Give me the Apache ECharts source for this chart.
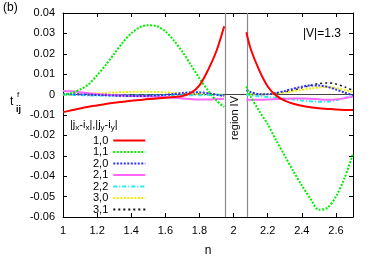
<!DOCTYPE html>
<html><head><meta charset="utf-8">
<script src="https://cdn.jsdelivr.net/npm/echarts@6/dist/echarts.min.js"></script>
<style>html,body{margin:0;padding:0;background:#fff}#c{width:374px;height:262px}</style>
</head><body><div id="c"></div>
<script>
// Data
const nLeft  = [1.0,1.05,1.1,1.15,1.2,1.25,1.3,1.35,1.4,1.45,1.5,1.55,1.6,1.65,1.7,1.75,1.8,1.85,1.9,1.945];
const nRight = [2.075,2.1,2.15,2.2,2.25,2.3,2.35,2.4,2.45,2.5,2.55,2.6,2.65,2.7];
const seriesNames = ['1,0','1,1','2,0','2,1','2,2','3,0','3,1'];
const t10L = [-0.0086,-0.0077,-0.0068,-0.006,-0.0053,-0.0046,-0.004,-0.0035,-0.003,-0.0026,-0.0022,-0.0019,-0.0016,-0.0012,-0.0007,0.0008,0.0045,0.012,0.0215,0.0335];
const t10R = [0.0306,0.0225,0.012,0.004,-0.0005,-0.003,-0.0045,-0.0055,-0.0062,-0.0067,-0.007,-0.0073,-0.0075,-0.0076];
const t11L = [0.0,0.0008,0.0025,0.005,0.0095,0.0145,0.02,0.0255,0.03,0.033,0.034,0.0335,0.031,0.0265,0.021,0.0145,0.008,0.002,-0.003,-0.006];
const t11R = [0.004,-0.001,-0.008,-0.0145,-0.0225,-0.03,-0.0375,-0.0445,-0.051,-0.0565,-0.0555,-0.05,-0.041,-0.029];
const t20L = [0.0003,0.0002,0.0001,0,-0.0002,-0.0003,-0.0005,-0.0006,-0.0007,-0.0007,-0.0006,-0.0004,-0.0001,0.0003,0.0008,0.0011,0.0011,0.0007,0.0,-0.0008];
const t20R = [0.0022,0.0012,0.0002,0.0002,0.0008,0.0018,0.0029,0.0039,0.0045,0.0045,0.0038,0.0025,0.001,-0.0003];
const t21L = [0.0018,0.0016,0.0012,0.0007,0.0003,0.0,-0.0003,-0.0005,-0.0007,-0.0008,-0.0009,-0.001,-0.0012,-0.0015,-0.0019,-0.0022,-0.0024,-0.0024,-0.0022,-0.002];
const t21R = [-0.0025,-0.0025,-0.0025,-0.0024,-0.0022,-0.002,-0.0019,-0.0019,-0.002,-0.0023,-0.0025,-0.0024,-0.0018,-0.001];
const t22L = [0.0,-0.0001,-0.0002,-0.0004,-0.0005,-0.0005,-0.0005,-0.0005,-0.0005,-0.0005,-0.0005,-0.0005,-0.0004,-0.0004,-0.0003,-0.0003,-0.0003,-0.0002,-0.0001,0.0];
const t22R = [0.0,-0.0003,-0.0008,-0.0012,-0.0016,-0.002,-0.0024,-0.0029,-0.0033,-0.0035,-0.0034,-0.0028,-0.0017,-0.0005];
const t30L = [0.0,0.0001,0.0002,0.0004,0.0006,0.0008,0.001,0.0012,0.0013,0.0014,0.0014,0.0013,0.0011,0.0009,0.0007,0.0005,0.0003,0.0002,0.0001,0.0];
const t30R = [0.0,0.0,0.0001,0.0003,0.0006,0.001,0.0016,0.0023,0.003,0.0035,0.0037,0.0032,0.0023,0.0013];
const t31L = [0.0,0.0,0.0,-0.0001,-0.0001,-0.0002,-0.0002,-0.0003,-0.0003,-0.0003,-0.0003,-0.0002,-0.0001,0.0,0.0002,0.0003,0.0003,0.0002,0.0,-0.0001];
const t31R = [0.0,0.0,0.0,0.0002,0.0006,0.0013,0.0022,0.0033,0.0045,0.0054,0.0057,0.0052,0.0038,0.0021];
const regionLines = [1.945, 2.075];

const left = [t10L,t11L,t20L,t21L,t22L,t30L,t31L];
const right = [t10R,t11R,t20R,t21R,t22R,t30R,t31R];
const colors = ['#ff0000','#00ee00','#3333ff','#ff66ff','#22eeee','#eeee00','#111111'];
const dashes = ['solid',[2,1.5],[2,1.5],'solid',[4,2,1,2],[2,1.5],[2,3]];
const widths = [2,2,2,2,2,2,1.5];

function build(i){
  const d = nLeft.map((n,k)=>[n,left[i][k]]);
  d.push([2.0,null]);
  nRight.forEach((n,k)=>d.push([n,right[i][k]]));
  return d;
}
const font = 'Liberation Sans, Arial, sans-serif';
const series = seriesNames.map((name,i)=>({
  name, type:'line', data: build(i), smooth:0.3, symbol:'none', connectNulls:false,
  lineStyle:{color:colors[i], width:widths[i], type:dashes[i]}, itemStyle:{color:colors[i]},
  z: 10-i, animation:false
}));
series.push({
  type:'line', data:[], symbol:'none', silent:true, animation:false,
  markLine:{symbol:'none', silent:true, label:{show:false}, animation:false,
    data:[...regionLines.map(v=>({xAxis:v, lineStyle:{color:'#8a8a8a',width:1.2,type:'solid'}})),
          {yAxis:0, lineStyle:{color:'#444',width:1,type:'solid'}}]}
});

const chart = echarts.init(document.getElementById('c'), null, {renderer:'canvas'});
const axisCommon = {
  axisLine:{show:true, onZero:false, lineStyle:{color:'#000', width:1}},
  axisTick:{show:true, inside:true, length:4, lineStyle:{color:'#000'}},
  splitLine:{show:false}
};
chart.setOption({
  animation:false,
  grid:{left:63, top:13, right:21, bottom:37},
  xAxis:[
    Object.assign({type:'value', min:1, max:2.7, interval:0.2, position:'bottom',
      name:'n', nameLocation:'middle', nameGap:28, nameTextStyle:{fontFamily:font,fontSize:12,color:'#000'},
      axisLabel:{fontFamily:font, fontSize:11, color:'#000', margin:8, showMaxLabel:false,
        formatter:v=>String(parseFloat(v.toFixed(2)))}}, axisCommon),
    Object.assign({type:'value', min:1, max:2.7, interval:0.2, position:'top', axisLabel:{show:false}}, axisCommon)
  ],
  yAxis:[
    Object.assign({type:'value', min:-0.06, max:0.04, interval:0.01, position:'left',
      axisLabel:{fontFamily:font, fontSize:11, color:'#000', margin:8,
        formatter:v=>String(parseFloat(v.toFixed(2)))}}, axisCommon),
    Object.assign({type:'value', min:-0.06, max:0.04, interval:0.01, position:'right', axisLabel:{show:false}}, axisCommon)
  ],
  legend:{
    orient:'vertical', left:88, top:130, align:'right', itemWidth:32, itemHeight:8, itemGap:0.5,
    itemStyle:{opacity:0},
    textStyle:{fontFamily:font, fontSize:11, color:'#000', lineHeight:11},
    data: seriesNames, selectedMode:false
  },
  graphic:[
    {type:'text', left:3, top:2, style:{text:'(b)', font:'12px '+font, fill:'#000'}},
    {type:'text', left:303, top:28, style:{text:'|V|=1.3', font:'12px '+font, fill:'#000'}},
    {type:'text', x:10, y:96, style:{text:'t', font:'12px '+font, fill:'#000'}},
    {type:'text', x:17, y:91, style:{text:'f', font:'8px '+font, fill:'#000'}},
    {type:'text', x:16, y:105, style:{text:'ij', font:'bold 9px '+font, fill:'#000'}},
    {type:'text', x:235, y:118, rotation:Math.PI/2, style:{text:'region IV', font:'11px '+font, fill:'#000', align:'center', verticalAlign:'middle'}},
    {type:'text', left:70, top:119, style:{
      text:'|j{s|x}-i{s|x}|,|j{s|y}-i{s|y}|', font:'11px '+font, fill:'#000',
      rich:{s:{fontSize:8, fontFamily:font, fill:'#000', padding:[6,0,0,0]}}}}
  ],
  series
});
</script></body></html>
